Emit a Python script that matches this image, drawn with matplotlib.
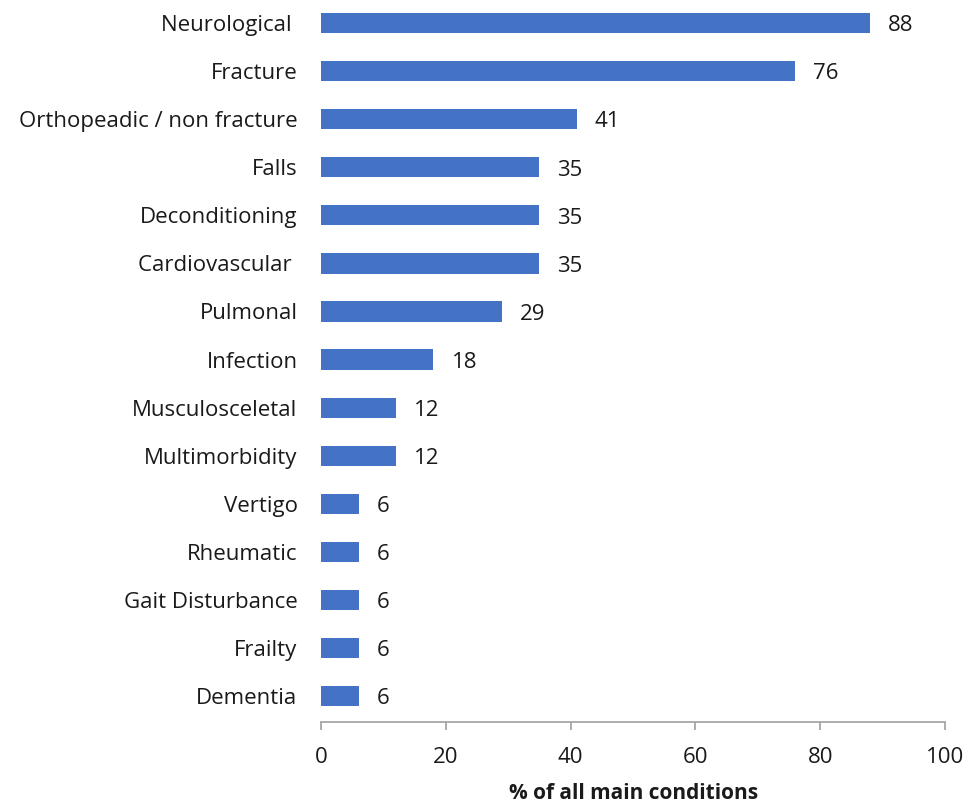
import matplotlib
matplotlib.use('Agg')
import matplotlib.pyplot as plt

# condições principais (de baixo para cima)
condicoes = ['Dementia', 'Frailty', 'Gait Disturbance', 'Rheumatic', 'Vertigo',
             'Multimorbidity', 'Musculosceletal', 'Infection', 'Pulmonal',
             'Cardiovascular ', 'Deconditioning', 'Falls',
             'Orthopeadic / non fracture', 'Fracture', 'Neurological ']
percentuais = [6, 6, 6, 6, 6, 12, 12, 18, 29, 35, 35, 35, 41, 76, 88]
ticks_x = [0, 20, 40, 60, 80, 100]

plt.rcParams['font.family'] = ['Open Sans', 'DejaVu Sans']
tam = 16
cor_texto = '#1a1a1a'

fig = plt.figure(figsize=(9.79, 8.05), dpi=100)
ax = fig.add_axes([0.328, 0.1031, 0.6373, 0.8969])

pos = list(range(len(condicoes)))
ax.barh(pos, percentuais, height=0.42, color='#4472C4')

for y, v in zip(pos, percentuais):
    ax.annotate(str(v), (v, y), xytext=(13, -2), textcoords='offset points',
                va='center', ha='left', fontsize=tam, color=cor_texto)

ax.set_yticks(pos)
ax.set_yticklabels(condicoes, fontsize=tam, color=cor_texto)
ax.set_xticks(ticks_x)
ax.set_xticklabels([str(t) for t in ticks_x], fontsize=tam, color=cor_texto)
ax.set_xlim(0, 100)
ax.set_ylim(-0.54, 14.48)

ax.tick_params(axis='y', length=0, pad=17)
ax.tick_params(axis='x', length=6, color='#A0A0A0', width=1.2, pad=12)
for lado in ['top', 'right', 'left']:
    ax.spines[lado].set_visible(False)
ax.spines['bottom'].set_color('#A0A0A0')
ax.spines['bottom'].set_linewidth(1.2)

ax.set_xlabel('% of all main conditions', fontsize=15, fontweight='bold',
              color=cor_texto, labelpad=11)

fig.savefig('out.png', dpi=100)
